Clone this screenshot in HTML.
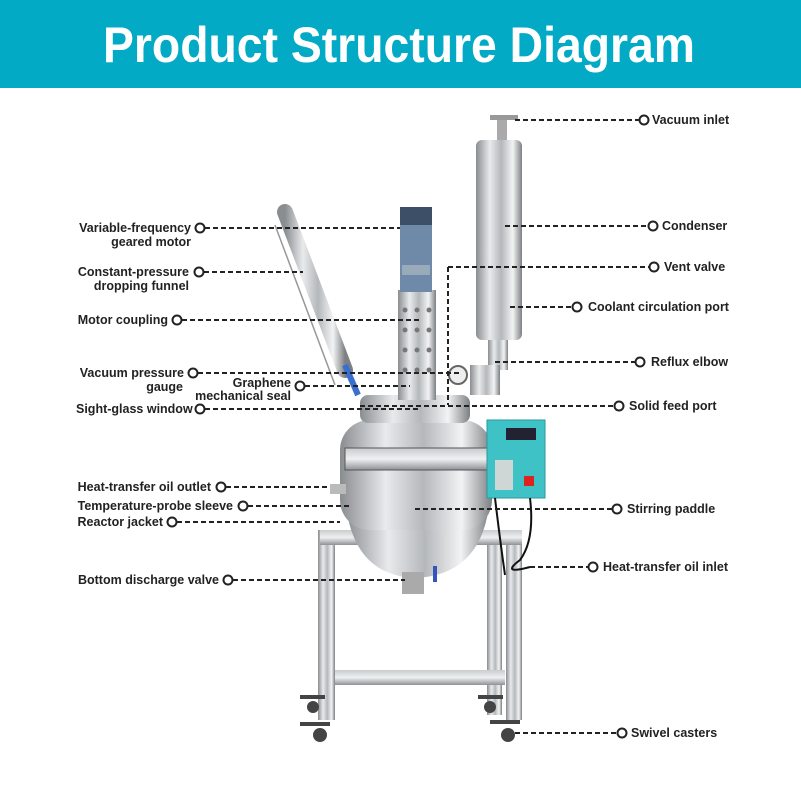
<!DOCTYPE html>
<html><head><meta charset="utf-8"><style>
html,body{margin:0;padding:0;background:#fff}
svg{display:block}
.l{font-family:"Liberation Sans",sans-serif;font-weight:bold;font-size:12.5px;fill:#222}
.d{stroke:#222;stroke-width:2;stroke-dasharray:5,3;fill:none}
.c{fill:#fff;stroke:#222;stroke-width:2}
</style></head><body>
<svg width="801" height="801" viewBox="0 0 801 801" xmlns="http://www.w3.org/2000/svg">
<defs>
<linearGradient id="s" x1="0" x2="1" y1="0" y2="0">
<stop offset="0" stop-color="#8a8d90"/><stop offset="0.3" stop-color="#e8eaec"/><stop offset="0.55" stop-color="#b5b8bb"/><stop offset="0.8" stop-color="#f2f3f4"/><stop offset="1" stop-color="#7d8083"/></linearGradient>
<linearGradient id="v" x1="0" x2="0" y1="0" y2="1">
<stop offset="0" stop-color="#c9ccce"/><stop offset="0.5" stop-color="#eef0f1"/><stop offset="1" stop-color="#8f9295"/></linearGradient>
</defs>
<rect x="0" y="0" width="801" height="88" fill="#02aac5"/>
<text x="399" y="62" text-anchor="middle" textLength="592" lengthAdjust="spacingAndGlyphs" font-family="Liberation Sans,sans-serif" font-weight="bold" font-size="50" fill="#fff">Product Structure Diagram</text>

<!-- machine -->
<!-- frame -->
<rect x="487" y="535" width="15" height="180" fill="url(#s)"/>
<rect x="318" y="530" width="17" height="190" fill="url(#s)"/>
<rect x="506" y="530" width="16" height="190" fill="url(#s)"/>
<rect x="335" y="670" width="170" height="15" fill="url(#v)"/>
<rect x="320" y="530" width="202" height="15" fill="url(#v)"/>
<g fill="#444"><circle cx="313" cy="707" r="6"/><circle cx="320" cy="735" r="7"/><circle cx="490" cy="707" r="6"/><circle cx="508" cy="735" r="7"/>
<rect x="300" y="695" width="25" height="4"/><rect x="300" y="722" width="30" height="4"/><rect x="478" y="695" width="25" height="4"/><rect x="490" y="720" width="30" height="4"/></g>
<!-- vessel -->
<path d="M345 495 Q350 575 415 578 Q485 575 490 495 Z" fill="url(#s)"/>
<rect x="402" y="572" width="22" height="22" fill="#aaa"/>
<rect x="433" y="566" width="4" height="16" fill="#3355bb"/>
<rect x="340" y="420" width="152" height="110" rx="30" fill="url(#s)"/>
<rect x="345" y="448" width="145" height="22" fill="url(#v)" stroke="#555"/>
<rect x="330" y="484" width="16" height="10" fill="#bbb"/>
<!-- top fittings -->
<rect x="360" y="395" width="110" height="28" rx="8" fill="url(#s)"/>
<!-- perforated cylinder + motor -->
<rect x="398" y="290" width="38" height="110" fill="url(#s)"/>
<g fill="#777"><circle cx="405" cy="310" r="2.5"/><circle cx="417" cy="310" r="2.5"/><circle cx="429" cy="310" r="2.5"/><circle cx="405" cy="330" r="2.5"/><circle cx="417" cy="330" r="2.5"/><circle cx="429" cy="330" r="2.5"/><circle cx="405" cy="350" r="2.5"/><circle cx="417" cy="350" r="2.5"/><circle cx="429" cy="350" r="2.5"/><circle cx="405" cy="370" r="2.5"/><circle cx="417" cy="370" r="2.5"/><circle cx="429" cy="370" r="2.5"/></g>
<rect x="400" y="207" width="32" height="85" fill="#6e8aa8"/>
<rect x="400" y="207" width="32" height="18" fill="#3d4f66"/>
<rect x="402" y="265" width="28" height="10" fill="#9ab"/>
<!-- funnel -->
<line x1="285" y1="212" x2="345" y2="370" stroke="url(#s)" stroke-width="16" stroke-linecap="round"/>
<line x1="345" y1="365" x2="358" y2="395" stroke="#3a6fd0" stroke-width="6"/>
<line x1="275" y1="225" x2="335" y2="385" stroke="#999" stroke-width="1.5"/>
<!-- gauge -->
<circle cx="458" cy="375" r="9" fill="#eee" stroke="#666" stroke-width="2"/>
<!-- condenser -->
<rect x="497" y="118" width="10" height="22" fill="#aaa"/>
<rect x="490" y="115" width="28" height="5" fill="#999"/>
<rect x="476" y="140" width="46" height="200" rx="6" fill="url(#s)"/>
<rect x="488" y="340" width="20" height="30" fill="url(#s)"/>
<path d="M470 365 L500 365 L500 395 L470 395 Z" fill="url(#s)"/>
<!-- control box -->
<rect x="487" y="420" width="58" height="78" fill="#3ec2c5" stroke="#2a9a9c"/>
<rect x="506" y="428" width="30" height="12" fill="#223"/>
<rect x="495" y="460" width="18" height="30" fill="#cfd6d6"/>
<rect x="524" y="476" width="10" height="10" fill="#d22"/>
<path d="M495 498 Q500 540 505 575 M530 498 Q535 540 520 560 Q500 575 530 567" stroke="#111" stroke-width="2" fill="none"/>

<!-- left connectors -->
<line class="d" x1="205" y1="228" x2="400" y2="228"/><circle class="c" cx="200" cy="228" r="4.5"/>
<text class="l" x="191" y="232" text-anchor="end">Variable-frequency</text><text class="l" x="191" y="246" text-anchor="end">geared motor</text>
<line class="d" x1="204" y1="272" x2="303" y2="272"/><circle class="c" cx="199" cy="272" r="4.5"/>
<text class="l" x="189" y="276" text-anchor="end">Constant-pressure</text><text class="l" x="189" y="290" text-anchor="end">dropping funnel</text>
<line class="d" x1="182" y1="320" x2="420" y2="320"/><circle class="c" cx="177" cy="320" r="4.5"/>
<text class="l" x="168" y="324" text-anchor="end">Motor coupling</text>
<line class="d" x1="198" y1="373" x2="460" y2="373"/><circle class="c" cx="193" cy="373" r="4.5"/>
<text class="l" x="184" y="377" text-anchor="end">Vacuum pressure</text><text class="l" x="183" y="391" text-anchor="end">gauge</text>
<line class="d" x1="305" y1="386" x2="410" y2="386"/><circle class="c" cx="300" cy="386" r="4.5"/>
<text class="l" x="291" y="387" text-anchor="end">Graphene</text><text class="l" x="291" y="400" text-anchor="end">mechanical seal</text>
<line class="d" x1="205" y1="409" x2="420" y2="409"/><circle class="c" cx="200" cy="409" r="4.5"/>
<text class="l" x="76" y="413">Sight-glass window</text>
<line class="d" x1="226" y1="487" x2="330" y2="487"/><circle class="c" cx="221" cy="487" r="4.5"/>
<text class="l" x="211" y="491" text-anchor="end">Heat-transfer oil outlet</text>
<line class="d" x1="248" y1="506" x2="350" y2="506"/><circle class="c" cx="243" cy="506" r="4.5"/>
<text class="l" x="233" y="510" text-anchor="end">Temperature-probe sleeve</text>
<line class="d" x1="177" y1="522" x2="340" y2="522"/><circle class="c" cx="172" cy="522" r="4.5"/>
<text class="l" x="163" y="526" text-anchor="end">Reactor jacket</text>
<line class="d" x1="233" y1="580" x2="405" y2="580"/><circle class="c" cx="228" cy="580" r="4.5"/>
<text class="l" x="219" y="584" text-anchor="end">Bottom discharge valve</text>

<!-- right connectors -->
<line class="d" x1="515" y1="120" x2="639" y2="120"/><circle class="c" cx="644" cy="120" r="4.5"/>
<text class="l" x="652" y="124">Vacuum inlet</text>
<line class="d" x1="505" y1="226" x2="648" y2="226"/><circle class="c" cx="653" cy="226" r="4.5"/>
<text class="l" x="662" y="230">Condenser</text>
<line class="d" x1="448" y1="267" x2="649" y2="267"/><line class="d" x1="448" y1="267" x2="448" y2="405"/><circle class="c" cx="654" cy="267" r="4.5"/>
<text class="l" x="664" y="271">Vent valve</text>
<line class="d" x1="510" y1="307" x2="572" y2="307"/><circle class="c" cx="577" cy="307" r="4.5"/>
<text class="l" x="588" y="311">Coolant circulation port</text>
<line class="d" x1="495" y1="362" x2="635" y2="362"/><circle class="c" cx="640" cy="362" r="4.5"/>
<text class="l" x="651" y="366">Reflux elbow</text>
<line class="d" x1="360" y1="406" x2="614" y2="406"/><circle class="c" cx="619" cy="406" r="4.5"/>
<text class="l" x="629" y="410">Solid feed port</text>
<line class="d" x1="415" y1="509" x2="612" y2="509"/><circle class="c" cx="617" cy="509" r="4.5"/>
<text class="l" x="627" y="513">Stirring paddle</text>
<line class="d" x1="530" y1="567" x2="588" y2="567"/><circle class="c" cx="593" cy="567" r="4.5"/>
<text class="l" x="603" y="571">Heat-transfer oil inlet</text>
<line class="d" x1="515" y1="733" x2="617" y2="733"/><circle class="c" cx="622" cy="733" r="4.5"/>
<text class="l" x="631" y="737">Swivel casters</text>
</svg>
</body></html>
